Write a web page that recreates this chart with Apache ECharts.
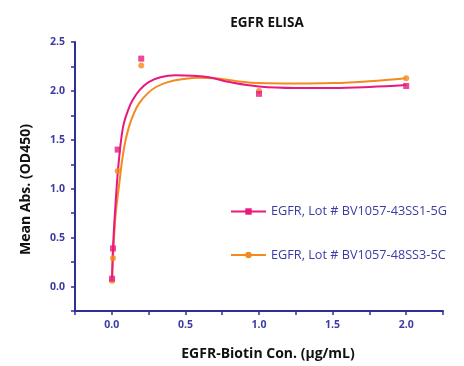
<!DOCTYPE html>
<html><head><meta charset="utf-8">
<script src="https://cdn.jsdelivr.net/npm/echarts@6/dist/echarts.min.js"></script>
<style>html,body{margin:0;padding:0;background:#fff}#c{width:464px;height:366px}</style>
</head><body><div id="c"></div>
<script>
// Measured concentrations (µg/mL)
var conc = [0.0016, 0.008, 0.04, 0.2, 1, 2];
// Mean absorbance values
var lot1 = [0.08, 0.39, 1.40, 2.33, 1.97, 2.05];
var lot2 = [0.06, 0.29, 1.18, 2.26, 2.00, 2.13];
// Fitted curves
var fitX1 = [0.0016, 0.008, 0.02, 0.036, 0.048, 0.065, 0.082, 0.11, 0.139, 0.19, 0.25, 0.33, 0.435, 0.55, 0.66, 0.8, 1.0, 1.25, 1.5, 1.75, 2.0];
var fitY1 = [0.08, 0.39, 0.72, 1.08, 1.29, 1.52, 1.67, 1.80, 1.90, 2.01, 2.09, 2.14, 2.16, 2.155, 2.14, 2.09, 2.045, 2.03, 2.03, 2.04, 2.06];
var fitX2 = [0.0016, 0.008, 0.025, 0.053, 0.07, 0.09, 0.116, 0.15, 0.184, 0.24, 0.30, 0.38, 0.48, 0.59, 0.7, 0.85, 1.0, 1.25, 1.5, 1.75, 2.0];
var fitY2 = [0.06, 0.29, 0.72, 1.08, 1.29, 1.47, 1.63, 1.77, 1.87, 1.97, 2.04, 2.09, 2.12, 2.135, 2.13, 2.10, 2.08, 2.075, 2.08, 2.10, 2.13];
var names = ['EGFR, Lot # BV1057-43SS1-5G', 'EGFR, Lot # BV1057-48SS3-5C'];
var title = 'EGFR ELISA';
var xName = 'EGFR-Biotin Con. (\u03bcg/mL)';
var yName = 'Mean Abs. (OD450)';

var pink = '#e8197d', orange = '#f48a1e', navy = '#2f2f98', lbl = '#3b3ba3';
function zip(a, b) { return a.map(function (v, i) { return [v, b[i]]; }); }
function halfLabel(v) { return Math.abs(v * 2 - Math.round(v * 2)) < 1e-6 ? v.toFixed(1) : ''; }

var chart = echarts.init(document.getElementById('c'), null, {renderer: 'canvas'});
chart.setOption({
  animation: false,
  backgroundColor: '#fff',
  title: {text: title, left: 262, top: 11, textAlign: 'center',
    textStyle: {fontFamily: 'Open Sans', fontSize: 13.5, fontWeight: 'bold', color: '#111'}},
  grid: {left: 75, right: 21, top: 42, bottom: 54, containLabel: false},
  legend: {
    orient: 'vertical', left: 230, top: 205, padding: 0, itemWidth: 35, itemHeight: 8, itemGap: 30.5,
    data: names,
    textStyle: {fontFamily: 'Open Sans', fontSize: 12.7, color: lbl}
  },
  xAxis: {
    type: 'value', min: -0.25, max: 2.25, interval: 0.25,
    name: xName, nameLocation: 'middle', nameGap: 36,
    nameTextStyle: {fontFamily: 'Open Sans', fontSize: 14, fontWeight: 'bold', color: '#111', padding: [0, 0, 0, 18]},
    axisLine: {show: true, onZero: false, lineStyle: {color: navy, width: 2}},
    axisTick: {show: true, length: 4, lineStyle: {color: navy, width: 1.5}},
    axisLabel: {formatter: halfLabel, margin: 9, fontFamily: 'Open Sans', fontSize: 10.5, fontWeight: 'bold', color: lbl},
    splitLine: {show: false}
  },
  yAxis: {
    type: 'value', min: -0.25, max: 2.5, interval: 0.25,
    name: yName, nameLocation: 'middle', nameGap: 42,
    nameTextStyle: {fontFamily: 'Open Sans', fontSize: 14, fontWeight: 'bold', color: '#111', padding: [0, 26, 0, 0]},
    axisLine: {show: true, onZero: false, lineStyle: {color: navy, width: 2}},
    axisTick: {show: true, length: 4, lineStyle: {color: navy, width: 1.5}},
    axisLabel: {formatter: function (v) { return v < 0 ? '' : halfLabel(v); }, margin: 10, fontFamily: 'Open Sans', fontSize: 10.5, fontWeight: 'bold', color: lbl},
    splitLine: {show: false}
  },
  series: [
    {name: names[0], type: 'line', data: zip(fitX1, fitY1), smooth: 0.4, showSymbol: false, symbol: 'rect',
      lineStyle: {color: pink, width: 2}, itemStyle: {color: pink}, z: 3},
    {name: names[1], type: 'line', data: zip(fitX2, fitY2), smooth: 0.4, showSymbol: false, symbol: 'circle',
      lineStyle: {color: orange, width: 2}, itemStyle: {color: orange}, z: 2},
    {name: 'pts1', type: 'scatter', data: zip(conc, lot1), symbol: 'rect', symbolSize: 6, itemStyle: {color: pink}, z: 5},
    {name: 'pts2', type: 'scatter', data: zip(conc, lot2), symbol: 'circle', symbolSize: 6, itemStyle: {color: orange}, z: 4}
  ]
});
</script>
</body></html>
